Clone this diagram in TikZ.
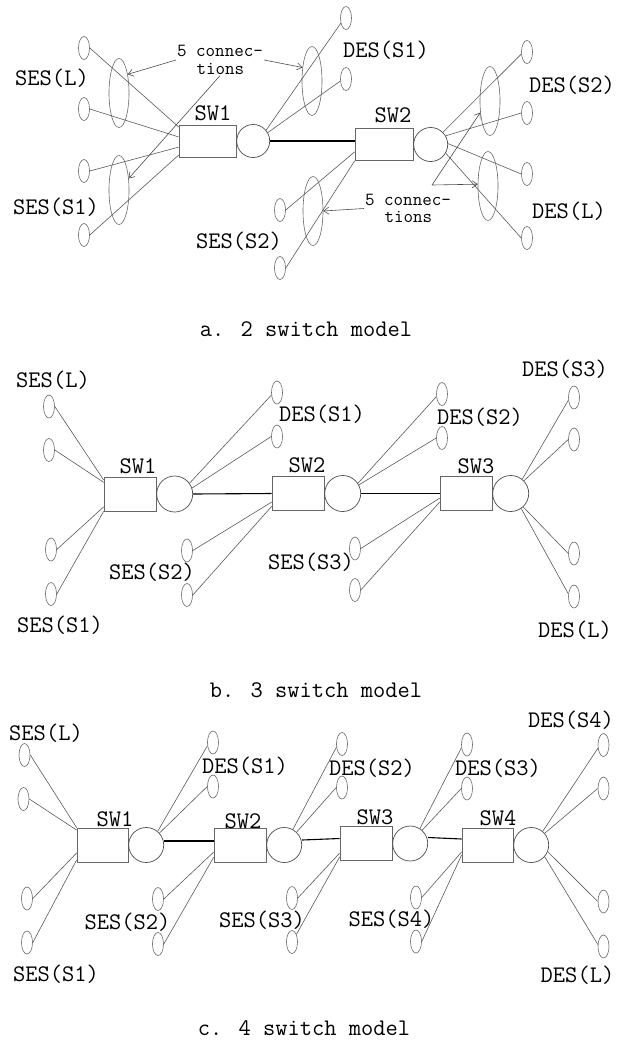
\documentclass[tikz,border=0pt]{standalone}
\usepackage{fontspec}
\usetikzlibrary{shapes.geometric,arrows.meta}

\tikzset{
	host/.style={ellipse, draw=black!60, line width=0.6pt, minimum width=11pt, minimum height=23pt, inner sep=0pt},
	group/.style={ellipse, draw=black!60, line width=0.6pt, minimum width=20pt, minimum height=69pt, inner sep=0pt},
	swbox/.style={rectangle, draw=black!60, line width=0.7pt, minimum width=52pt, minimum height=34pt, inner sep=0pt},
	port/.style={circle, draw=black!70, line width=0.7pt, minimum size=35pt, inner sep=0pt, anchor=west},
	lbl/.style={font=\ttfamily\fontsize{23.8}{24}\selectfont, inner sep=0pt},
	note/.style={font=\ttfamily\fontsize{18.5}{17.5}\selectfont, align=left, inner sep=1pt},
	wire/.style={draw=black!65, line width=0.6pt},
	link/.style={draw=black, line width=1.1pt},
	callout/.style={draw=black!70, line width=0.6pt, -{Straight Barb[length=5pt,width=7pt]}}
}

\begin{document}
\begin{tikzpicture}[x=1pt,y=-1pt]
	\useasboundingbox (0,0) rectangle (624,1042);

	% a. 2 switch model
	\node [host] (aL1) at (84,48) {};
	\node [host] (aL2) at (84,109) {};
	\node [host] (aS1) at (84,171) {};
	\node [host] (aS2) at (84,235) {};
	\node [group] (aGL) at (119,93) {};
	\node [group] (aGS) at (119,190) {};
	\node [swbox, minimum width=57pt, minimum height=32pt] (aSW1) at (207.5,141) {};
	\node [port, minimum size=33pt] (aP1) at (aSW1.east) {};
	\node [host] (aD1) at (346,18) {};
	\node [host] (aD2) at (346,79) {};
	\node [group] (aGD) at (312,81) {};
	\node [swbox, minimum width=58pt, minimum height=32pt] (aSW2) at (384,144.5) {};
	\node [port, minimum size=34pt] (aP2) at (aSW2.east) {};
	\node [host] (aT1) at (280,210) {};
	\node [host] (aT2) at (280,268) {};
	\node [group] (aGT) at (313,211) {};
	\node [host] (aR1) at (527,52) {};
	\node [host] (aR2) at (527,113) {};
	\node [host] (aR3) at (527,174) {};
	\node [host] (aR4) at (527,238) {};
	\node [group] (aGR) at (490,101) {};
	\node [group] (aGE) at (488,186) {};

	\draw [wire] (aL1.east) -- (aSW1.154);
	\draw [wire] (aL2.east) -- (aSW1.172);
	\draw [wire] (aS1.east) -- (aSW1.192);
	\draw [wire] (aS2.east) -- (aSW1.206);
	\draw [wire] (aP1.40) -- (aD1.225);
	\draw [wire] (aP1.30) -- (aD2.200);
	\draw [link] (aP1.east) -- (aP1.east -| aSW2.west);
	\draw [wire] (aT1.east) -- (aSW2.194);
	\draw [wire] (aT2.east) -- (aSW2.south west);
	\draw [wire] (aP2.45) -- (aR1.200);
	\draw [wire] (aP2.30) -- (aR2.west);
	\draw [wire] (aP2.3) -- (aR3.west);
	\draw [wire] (aP2.-30) -- (aR4.west);

	\node [lbl] (aSESL) at (52,78) {SES(L)};
	\node [lbl] (aSESS1) at (56,207) {SES(S1)};
	\node [lbl] (aSW1t) at (213,113) {SW1};
	\node [lbl] (aSW2t) at (393,115) {SW2};
	\node [lbl] (aDESS1) at (386,50) {DES(S1)};
	\node [lbl] (aSESS2) at (239,241) {SES(S2)};
	\node [lbl] (aDESS2) at (572,85) {DES(S2)};
	\node [lbl] (aDESL) at (569,211) {DES(L)};

	\node [note] (aC1) at (220,60) {5 connec-\\\hspace*{1.05em}tions};
	\draw [callout] (aC1.west) -- (aGL.65);
	\draw [callout] (aC1.south) -- (aGS.50);
	\draw [callout] (aC1.east) -- (aGD.125);
	\node [note] (aC2) at (408,208.5) {5 connec-\\\hspace*{1.05em}tions};
	\coordinate (aC2top) at (432,185);
	\draw [callout] (aC2.west) -- (aGT.east);
	\draw [callout] (aC2top) -- (aGR.230);
	\draw [callout] (aC2top) -- (aGE.170);

	\node [lbl] (aCap) at (306,329) {a. 2 switch model};

	% b. 3 switch model
	\node [host] (bL1) at (49,406.5) {};
	\node [host] (bL2) at (49,450) {};
	\node [host] (bS1) at (51,549.5) {};
	\node [host] (bS2) at (51,594) {};
	\node [swbox] (bSW1) at (130,494) {};
	\node [port, minimum size=36pt] (bP1) at (bSW1.east) {};
	\node [host] (bD1) at (277,392.5) {};
	\node [host] (bD2) at (277,436.5) {};
	\node [swbox] (bSW2) at (298,493.5) {};
	\node [port, minimum size=36pt] (bP2) at (bSW2.east) {};
	\node [host] (bT1) at (187,550.5) {};
	\node [host] (bT2) at (187,595) {};
	\node [host] (bE1) at (442,394) {};
	\node [host] (bE2) at (442,438) {};
	\node [swbox] (bSW3) at (466,493.5) {};
	\node [port, minimum size=36pt] (bP3) at (bSW3.east) {};
	\node [host] (bU1) at (355,548.5) {};
	\node [host] (bU2) at (355,590) {};
	\node [host] (bR1) at (574,397.5) {};
	\node [host] (bR2) at (574,439.5) {};
	\node [host] (bR3) at (574,553.5) {};
	\node [host] (bR4) at (574,596.5) {};

	\draw [wire] (bL1.east) -- (bSW1.152);
	\draw [wire] (bL2.east) -- (bSW1.156);
	\draw [wire] (bS1.east) -- (bSW1.206);
	\draw [wire] (bS2.east) -- (bSW1.south west);
	\draw [wire] (bP1.36) -- (bD1.205);
	\draw [wire] (bP1.19) -- (bD2.west);
	\draw [link] (bP1.east) -- (bSW2.west);
	\draw [wire] (bT1.east) -- (bSW2.198);
	\draw [wire] (bT2.east) -- (bSW2.206);
	\draw [wire] (bP2.34) -- (bE1.205);
	\draw [wire] (bP2.28) -- (bE2.west);
	\draw [link] (bP2.east) -- (bSW3.west);
	\draw [wire] (bU1.east) -- (bSW3.190);
	\draw [wire] (bU2.east) -- (bSW3.198);
	\draw [wire] (bP3.51) -- (bR1.205);
	\draw [wire] (bP3.44) -- (bR2.west);
	\draw [wire] (bP3.-47) -- (bR3.west);
	\draw [wire] (bP3.-55) -- (bR4.155);

	\node [lbl] (bSESL) at (53,380.5) {SES(L)};
	\node [lbl] (bSESS1) at (60,625) {SES(S1)};
	\node [lbl] (bSW1t) at (138,466) {SW1};
	\node [lbl] (bDESS1) at (322,414) {DES(S1)};
	\node [lbl] (bSW2t) at (307,465) {SW2};
	\node [lbl] (bSESS2) at (152,572.5) {SES(S2)};
	\node [lbl] (bDESS2) at (480,417.5) {DES(S2)};
	\node [lbl] (bSW3t) at (476,466) {SW3};
	\node [lbl] (bSESS3) at (311,562) {SES(S3)};
	\node [lbl] (bDESS3) at (565,369.5) {DES(S3)};
	\node [lbl] (bDESL) at (575,630.5) {DES(L)};

	\node [lbl] (bCap) at (316,690) {b. 3 switch model};

	% c. 4 switch model
	\node [host] (cL1) at (24.5,755) {};
	\node [host] (cL2) at (23.5,799) {};
	\node [host] (cS1) at (27,898.5) {};
	\node [host] (cS2) at (27,942.5) {};
	\node [swbox, minimum width=51pt] (cSW1) at (102.5,845) {};
	\node [port] (cP1) at (cSW1.east) {};
	\node [host] (cD1) at (213,742.5) {};
	\node [host] (cD2) at (213,786.5) {};
	\node [swbox] (cSW2) at (240,845) {};
	\node [port] (cP2) at (cSW2.east) {};
	\node [host] (cT1) at (158,899) {};
	\node [host] (cT2) at (158,944) {};
	\node [host] (cE1) at (342,744) {};
	\node [host] (cE2) at (342,787.5) {};
	\node [swbox] (cSW3) at (366,843.5) {};
	\node [port] (cP3) at (cSW3.east) {};
	\node [host] (cU1) at (292,898) {};
	\node [host] (cU2) at (292,942) {};
	\node [host] (cF1) at (467,744.5) {};
	\node [host] (cF2) at (467,788.5) {};
	\node [swbox, minimum width=51pt] (cSW4) at (487.5,845) {};
	\node [port] (cP4) at (cSW4.east) {};
	\node [host] (cV1) at (416,897.5) {};
	\node [host] (cV2) at (416,941.5) {};
	\node [host] (cR1) at (603.5,745) {};
	\node [host] (cR2) at (603.5,788.5) {};
	\node [host] (cR3) at (603.5,901.5) {};
	\node [host] (cR4) at (603.5,946.5) {};

	\draw [wire] (cL1.east) -- (cSW1.north west);
	\draw [wire] (cL2.east) -- (cSW1.150);
	\draw [wire] (cS1.east) -- (cSW1.197);
	\draw [wire] (cS2.east) -- (cSW1.210);
	\draw [wire] (cP1.50) -- (cD1.210);
	\draw [wire] (cP1.42) -- (cD2.west);
	\draw [link] ([yshift=4pt]cP1.east) -- ([yshift=4pt]cSW2.west);
	\draw [wire] (cT1.east) -- (cSW2.195);
	\draw [wire] (cT2.east) -- (cSW2.205);
	\draw [wire] (cP2.61) -- (cE1.210);
	\draw [wire] (cP2.46) -- (cE2.west);
	\draw [link] ([yshift=5pt]cP2.east) -- ([yshift=5pt]cSW3.west);
	\draw [wire] (cU1.east) -- (cSW3.200);
	\draw [wire] (cU2.60) -- (cSW3.207);
	\draw [wire] (cP3.57) -- (cF1.210);
	\draw [wire] (cP3.48) -- (cF2.west);
	\draw [link] ([yshift=6pt]cP3.east) -- ([yshift=6pt]cSW4.west);
	\draw [wire] (cV1.east) -- (cSW4.195);
	\draw [wire] (cV2.east) -- (cSW4.201);
	\draw [wire] (cP4.50) -- (cR1.210);
	\draw [wire] (cP4.41) -- (cR2.west);
	\draw [wire] (cP4.-22) -- (cR3.west);
	\draw [wire] (cP4.-41) -- (cR4.160);

	\node [lbl] (cSESL) at (46,733.5) {SES(L)};
	\node [lbl] (cSESS1) at (56,974.5) {SES(S1)};
	\node [lbl] (cSW1t) at (115,819) {SW1};
	\node [lbl] (cDESS1) at (245,766.5) {DES(S1)};
	\node [lbl] (cSW2t) at (243,821.5) {SW2};
	\node [lbl] (cSESS2) at (127.5,922.5) {SES(S2)};
	\node [lbl] (cSESS3) at (262,920.5) {SES(S3)};
	\node [lbl] (cDESS2) at (372,768.5) {DES(S2)};
	\node [lbl] (cSW3t) at (375,817.5) {SW3};
	\node [lbl] (cDESS3) at (498,768.5) {DES(S3)};
	\node [lbl] (cSW4t) at (498,818.5) {SW4};
	\node [lbl] (cSESS4) at (391.5,919.5) {SES(S4)};
	\node [lbl] (cDESS4) at (571,720.5) {DES(S4)};
	\node [lbl] (cDESL) at (577.5,975.5) {DES(L)};

	\node [lbl] (cCap) at (304,1028) {c. 4 switch model};
\end{tikzpicture}
\end{document}
